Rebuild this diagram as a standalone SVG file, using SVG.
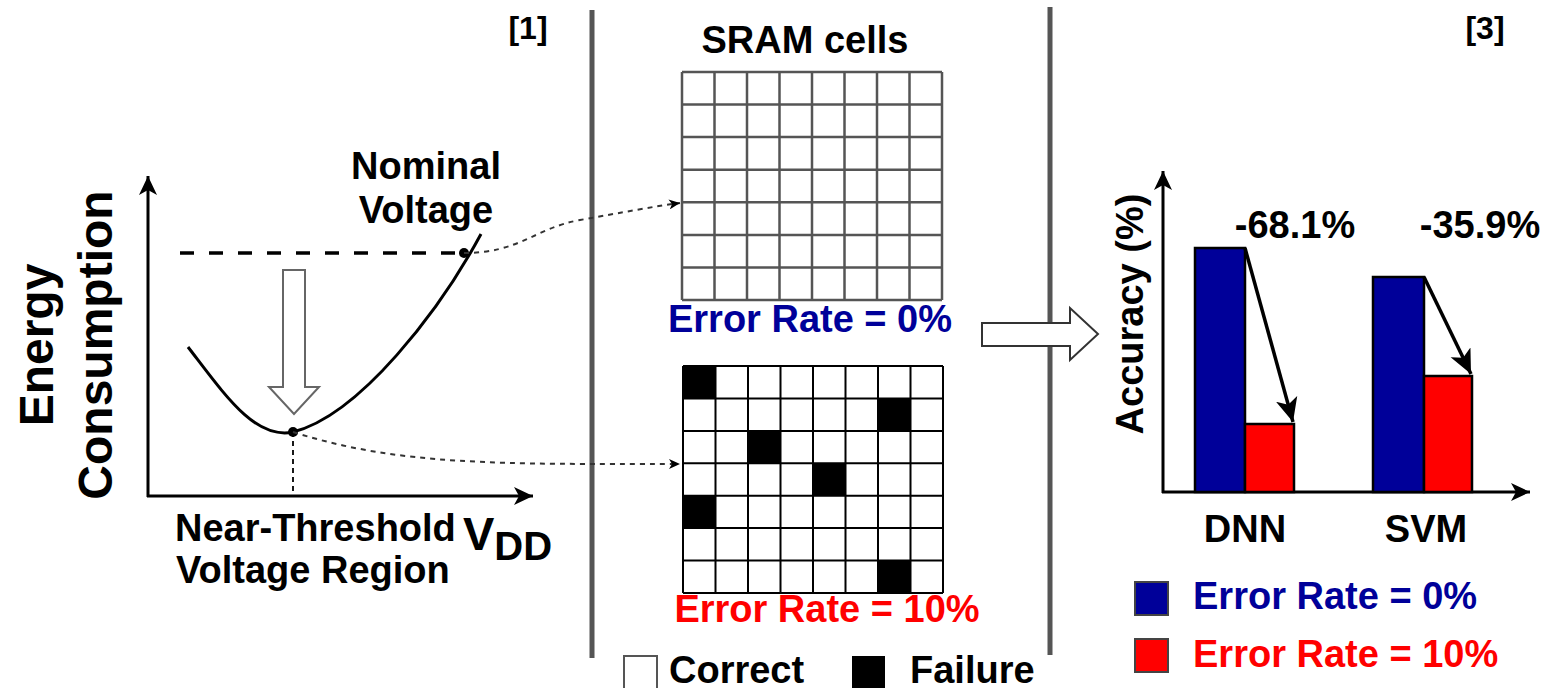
<svg xmlns="http://www.w3.org/2000/svg" width="1546" height="688" viewBox="0 0 1546 688">
  <defs>
    <style>
      text { font-family: "Liberation Sans", Arial, sans-serif; font-weight: bold; fill: #000; }
      .lbl { font-size: 38px; }
      .ref { font-size: 32px; }
      .blue { fill: #000099; }
      .red { fill: #ff0000; }
      .axis { stroke: #000; stroke-width: 3; fill: none; }
      .divider { stroke: #555; stroke-width: 5; }
      .dotted { stroke: #333; stroke-width: 2; stroke-dasharray: 5 5; fill: none; }
      .gridA { stroke: #555; stroke-width: 2.5; fill: none; }
      .gridB { stroke: #000; stroke-width: 2; fill: none; }
      .hollow { fill: #fff; stroke: #666; stroke-width: 2; }
      .bar { stroke: #000; stroke-width: 2.5; }
    </style>
    <marker id="axisHead" markerWidth="20" markerHeight="20" refX="19" refY="10" orient="auto" markerUnits="userSpaceOnUse">
      <path d="M0,1 L19,10 L0,19 L5,10 z" fill="#000"/>
    </marker>
    <marker id="dotHead" markerWidth="12" markerHeight="10" refX="11" refY="5" orient="auto" markerUnits="userSpaceOnUse">
      <path d="M0,0 L11,5 L0,10 L3,5 z" fill="#000"/>
    </marker>
    <marker id="dropHead" markerWidth="26" markerHeight="26" refX="24" refY="13" orient="auto" markerUnits="userSpaceOnUse">
      <path d="M0,2 L24,13 L0,24 L6,13 z" fill="#000"/>
    </marker>
  </defs>

  <rect width="1546" height="688" fill="#fff"/>

  <!-- panel dividers -->
  <line class="divider" x1="592" y1="10" x2="592" y2="658"/>
  <line class="divider" x1="1050" y1="7" x2="1050" y2="655"/>

  <!-- Energy vs VDD chart -->
  <g id="energy-chart">
    <text class="ref" x="528" y="39" text-anchor="middle">[1]</text>
    <line class="axis" x1="148" y1="497" x2="148" y2="176" marker-end="url(#axisHead)"/>
    <line class="axis" x1="147" y1="496" x2="533" y2="496" marker-end="url(#axisHead)"/>
    <text style="font-size:48px" transform="translate(53,345) rotate(-90)" text-anchor="middle">Energy</text>
    <text style="font-size:48px" transform="translate(112,345) rotate(-90)" text-anchor="middle">Consumption</text>
    <line x1="180" y1="253" x2="464" y2="253" stroke="#000" stroke-width="3.5" stroke-dasharray="14 15"/>
    <path d="M188,347 C225,395 255,440 293,432 C360,415 440,310 481,234" fill="none" stroke="#000" stroke-width="3"/>
    <line x1="293" y1="432" x2="293" y2="496" stroke="#000" stroke-width="1.8" stroke-dasharray="5 4"/>
    <polygon class="hollow" points="283,270 305,270 305,387 319,387 294,414 269,387 283,387"/>
    <circle cx="464" cy="253" r="5" fill="#000"/>
    <circle cx="293" cy="432" r="5" fill="#000"/>
    <text class="lbl" x="426" y="179" text-anchor="middle">Nominal</text>
    <text class="lbl" x="426" y="223" text-anchor="middle">Voltage</text>
    <text class="lbl" x="175" y="541">Near-Threshold</text>
    <text class="lbl" x="176" y="583">Voltage Region</text>
    <text x="463" y="550" style="font-size:47px">V<tspan dy="10" style="font-size:40px">DD</tspan></text>
  </g>

  <!-- SRAM array, no errors -->
  <g id="sram-ok">
    <text class="lbl" x="805" y="53" text-anchor="middle">SRAM cells</text>
    <path class="gridA" d="M682,72 V300 M714.5,72 V300 M747,72 V300 M779.5,72 V300 M812,72 V300 M844.5,72 V300 M877,72 V300 M909.5,72 V300 M942,72 V300 M682,72 H942 M682,104.6 H942 M682,137.1 H942 M682,169.7 H942 M682,202.3 H942 M682,234.9 H942 M682,267.4 H942 M682,300 H942"/>
    <text class="lbl blue" x="810" y="332" text-anchor="middle">Error Rate = 0%</text>
  </g>

  <!-- SRAM array, 10% failing cells -->
  <g id="sram-err">
    <g fill="#000">
      <rect x="683" y="366" width="32.5" height="32.4"/>
      <rect x="878" y="398.4" width="32.5" height="32.4"/>
      <rect x="748" y="430.9" width="32.5" height="32.4"/>
      <rect x="813" y="463.3" width="32.5" height="32.4"/>
      <rect x="683" y="495.7" width="32.5" height="32.4"/>
      <rect x="878" y="560.6" width="32.5" height="32.4"/>
    </g>
    <path class="gridB" d="M683,366 V593 M715.5,366 V593 M748,366 V593 M780.5,366 V593 M813,366 V593 M845.5,366 V593 M878,366 V593 M910.5,366 V593 M943,366 V593 M683,366 H943 M683,398.4 H943 M683,430.9 H943 M683,463.3 H943 M683,495.7 H943 M683,528.1 H943 M683,560.6 H943 M683,593 H943"/>
    <text class="lbl red" x="827" y="622" text-anchor="middle">Error Rate = 10%</text>
  </g>

  <!-- cell legend -->
  <g id="cell-legend">
    <rect x="624" y="656" width="33" height="34" fill="#fff" stroke="#555" stroke-width="2"/>
    <text class="lbl" x="669" y="683">Correct</text>
    <rect x="852" y="656" width="33" height="34" fill="#000"/>
    <text class="lbl" x="910" y="683">Failure</text>
  </g>

  <!-- connectors -->
  <g id="connectors">
    <path class="dotted" d="M464,253 C520,253 535,228 580,220 S650,207 680,203" marker-end="url(#dotHead)"/>
    <path class="dotted" d="M293,432 C400,466 500,464 680,464" marker-end="url(#dotHead)"/>
    <polygon fill="#fff" stroke="#333" stroke-width="2" points="982,323 1070,323 1070,308 1098,334 1070,360 1070,346 982,346"/>
  </g>

  <!-- accuracy chart -->
  <g id="accuracy-chart">
    <text class="ref" x="1485" y="39" text-anchor="middle">[3]</text>
    <line class="axis" x1="1163" y1="493" x2="1163" y2="171" marker-end="url(#axisHead)"/>
    <line class="axis" x1="1162" y1="492" x2="1530" y2="492" marker-end="url(#axisHead)"/>
    <text class="lbl" transform="translate(1143,314) rotate(-90)" text-anchor="middle">Accuracy (%)</text>
    <rect class="bar" x="1195" y="248" width="50" height="244" fill="#000099"/>
    <rect class="bar" x="1245" y="424" width="49" height="68" fill="#ff0000"/>
    <rect class="bar" x="1373" y="277" width="51" height="215" fill="#000099"/>
    <rect class="bar" x="1424" y="376" width="48" height="116" fill="#ff0000"/>
    <line x1="1245" y1="248" x2="1293" y2="422" stroke="#000" stroke-width="3.5" marker-end="url(#dropHead)"/>
    <line x1="1424" y1="277" x2="1471" y2="374" stroke="#000" stroke-width="3.5" marker-end="url(#dropHead)"/>
    <text class="lbl" x="1295" y="238" text-anchor="middle">-68.1%</text>
    <text class="lbl" x="1480" y="238" text-anchor="middle">-35.9%</text>
    <text class="lbl" x="1245" y="542" text-anchor="middle">DNN</text>
    <text class="lbl" x="1426" y="542" text-anchor="middle">SVM</text>
  </g>

  <!-- accuracy legend -->
  <g id="accuracy-legend">
    <rect x="1135" y="582" width="33" height="33" fill="#000099" stroke="#444" stroke-width="2"/>
    <text class="lbl blue" x="1193" y="609">Error Rate = 0%</text>
    <rect x="1135" y="639" width="33" height="33" fill="#ff0000" stroke="#444" stroke-width="2"/>
    <text class="lbl red" x="1193" y="667">Error Rate = 10%</text>
  </g>
</svg>
